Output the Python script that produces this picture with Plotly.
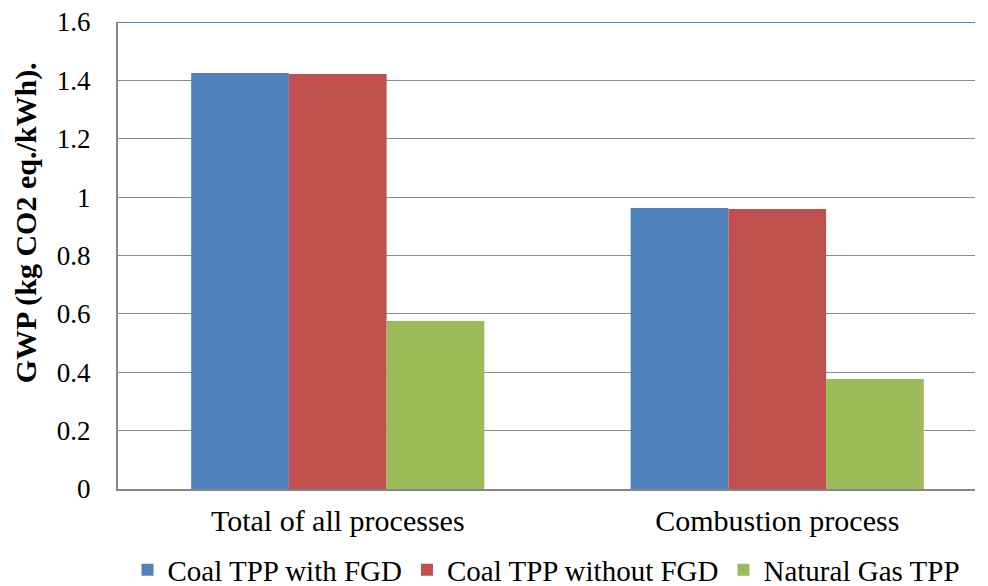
import plotly.graph_objects as go

categories = ["Total of all processes", "Combustion process"]
series_names = ["Coal TPP with FGD", "Coal TPP without FGD", "Natural Gas TPP"]
coal_fgd = [1.425, 0.963]
coal_no_fgd = [1.422, 0.959]
natural_gas = [0.576, 0.377]
colors = ["#4F81BD", "#C0504D", "#9BBB59"]
y_ticks = [0, 0.2, 0.4, 0.6, 0.8, 1, 1.2, 1.4, 1.6]
y_title = "GWP (kg CO2 eq./kWh)."

FONT = "Liberation Serif"

fig = go.Figure()
for name, vals, col in zip(series_names, [coal_fgd, coal_no_fgd, natural_gas], colors):
    fig.add_trace(go.Bar(
        x=categories, y=vals, name=name,
        marker=dict(color=col, line=dict(width=0)),
    ))

# the page body has an 8px default margin, so the figure is made 8px smaller
fig.update_layout(
    width=980, height=578,
    margin=dict(l=110, r=13, t=14, b=97, autoexpand=False),
    paper_bgcolor="white", plot_bgcolor="white",
    barmode="group", bargap=0.333, bargroupgap=0,
    font=dict(family=FONT, size=28, color="black"),
    legend=dict(orientation="h", x=0.5, xanchor="center", y=-0.173, yanchor="middle",
                font=dict(family=FONT, size=29, color="black"),
                itemwidth=30, tracegroupgap=0),
    xaxis=dict(
        type="category", range=[-0.5, 1.45], automargin=False,
        showline=True, linecolor="#868686", linewidth=2,
        ticks="", showgrid=False,
        tickfont=dict(family=FONT, size=30, color="black"),
        ticklabelstandoff=4,
    ),
    yaxis=dict(
        range=[0, 1.6], tickvals=y_ticks, automargin=False,
        showline=True, linecolor="#868686", linewidth=2,
        showgrid=True, gridcolor="#8c8c8c", gridwidth=1.3,
        zeroline=False, ticks="",
        tickfont=dict(family=FONT, size=27, color="black"),
        ticklabelstandoff=20, ticklabeloverflow="allow",
    ),
    showlegend=True,
)

# y-axis title placed as an annotation (it sits above the plot's middle in the reference)
fig.add_annotation(
    text="<b>" + y_title + "</b>", textangle=-90,
    xref="paper", yref="paper", x=-0.108, y=0.57,
    xanchor="center", yanchor="middle", showarrow=False,
    font=dict(family=FONT, size=30, color="black"),
)

fig.add_shape(type="line", xref="paper", yref="y", x0=0, x1=1, y0=1.6, y1=1.6,
              line=dict(color="#4F81BD", width=2))

fig.write_html("out.html")
